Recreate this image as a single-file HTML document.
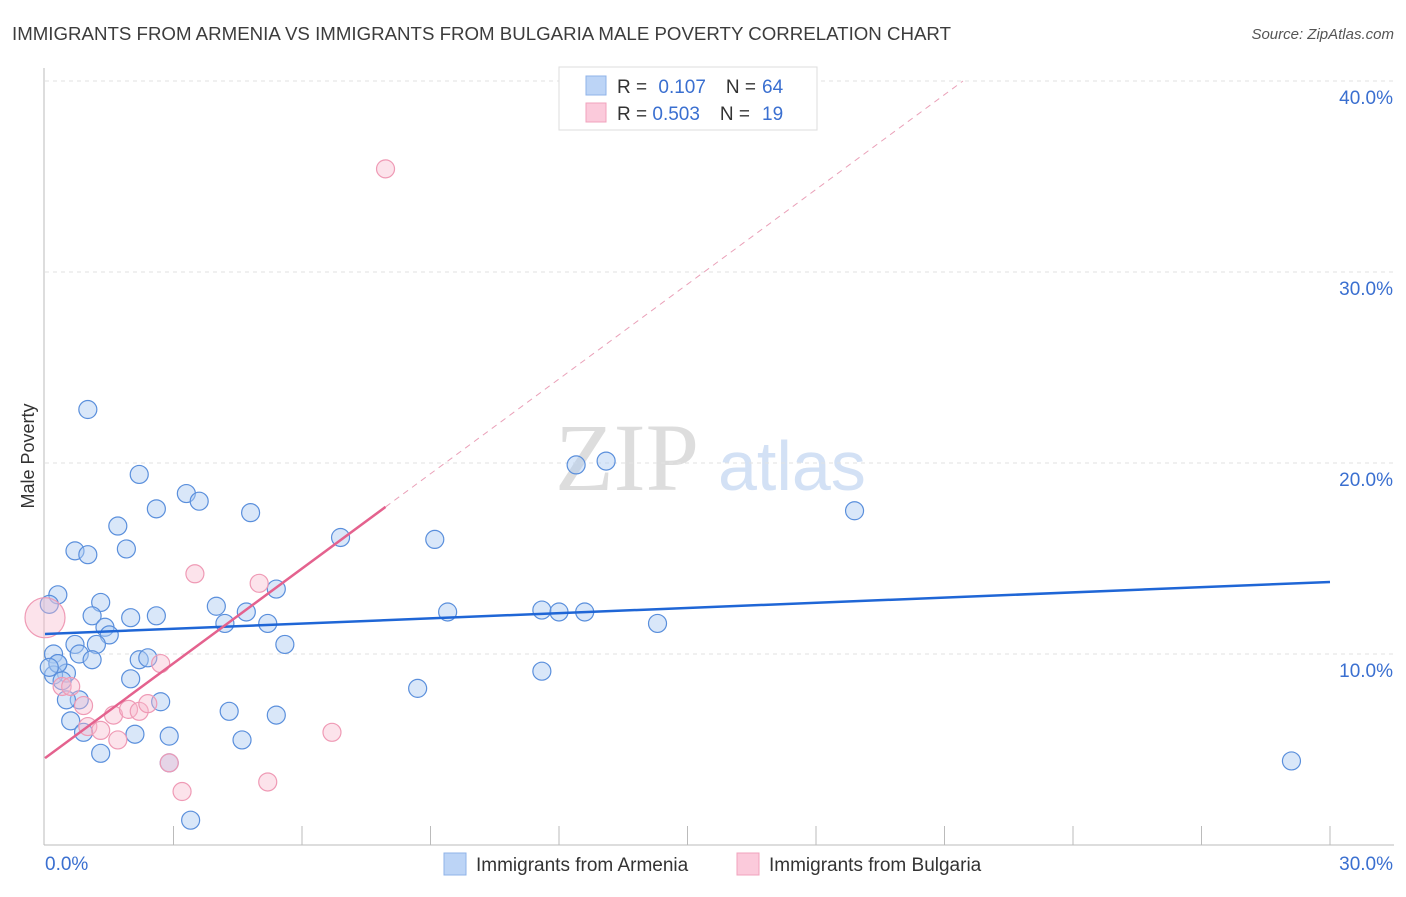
<!DOCTYPE html>
<html><head><meta charset="utf-8"><style>
body{margin:0;background:#fff;font-family:"Liberation Sans",sans-serif}
</style></head><body>
<svg id="chart" width="1406" height="892" xmlns="http://www.w3.org/2000/svg" font-family="Liberation Sans, sans-serif">
<text x="12" y="40" font-size="18" fill="#3c3c3c" textLength="939" lengthAdjust="spacingAndGlyphs">IMMIGRANTS FROM ARMENIA VS IMMIGRANTS FROM BULGARIA MALE POVERTY CORRELATION CHART</text>
<text x="1394" y="39" font-size="15" fill="#555" font-style="italic" text-anchor="end">Source: ZipAtlas.com</text>
<text transform="translate(34,456) rotate(-90)" font-size="18" fill="#333" text-anchor="middle">Male Poverty</text>
<text x="555" y="490" font-size="96" fill="#ddd" font-family="Liberation Serif, serif">ZIP</text>
<text x="718" y="490" font-size="70" fill="#d3e1f5">atlas</text>
<g id="grid"></g><g id="marks"></g>
<g>
<rect x="559" y="67" width="258" height="63" fill="#fff" stroke="#ddd"/>
<rect x="586" y="76" width="20" height="19" fill="#bcd4f6" stroke="#8fb3e8"/>
<rect x="586" y="103" width="20" height="19" fill="#fbcadb" stroke="#f0a3bd"/>
<text x="617" y="93" font-size="19" fill="#333">R = <tspan fill="#3a6fd0" dx="6">0.107</tspan><tspan dx="20" fill="#333">N =</tspan><tspan dx="6" fill="#3a6fd0">64</tspan></text>
<text x="617" y="120" font-size="19" fill="#333">R = <tspan fill="#3a6fd0">0.503</tspan><tspan dx="20" fill="#333">N =</tspan><tspan dx="12" fill="#3a6fd0">19</tspan></text>
</g>
<g>
<rect x="444" y="853" width="22" height="22" fill="#bcd4f6" stroke="#8fb3e8"/>
<text x="476" y="871" font-size="19" fill="#333">Immigrants from Armenia</text>
<rect x="737" y="853" width="22" height="22" fill="#fbcadb" stroke="#f0a3bd"/>
<text x="769" y="871" font-size="19" fill="#333">Immigrants from Bulgaria</text>
</g>
</svg>
<script>
const yTicks=[10,20,30,40];
const xTickLabels=["0.0%","30.0%"];
const armeniaX=[1.0,2.2,3.3,3.6,2.6,4.8,1.7,0.7,1.0,1.9,6.9,9.1,12.4,13.1,18.9,0.3,0.1,1.3,5.4,1.1,2.0,2.6,4.0,4.7,4.2,5.2,9.4,11.6,12.0,12.6,14.3,1.4,1.5,1.2,0.7,0.2,0.8,1.1,2.2,2.4,5.6,0.3,0.5,0.2,0.4,2.0,8.7,11.6,0.8,0.5,2.7,0.6,0.9,2.1,4.3,5.4,2.9,1.3,4.6,2.9,3.4,29.1,0.3,0.1];
const armeniaY=[22.8,19.4,18.4,18.0,17.6,17.4,16.7,15.4,15.2,15.5,16.1,16.0,19.9,20.1,17.5,13.1,12.6,12.7,13.4,12.0,11.9,12.0,12.5,12.2,11.6,11.6,12.2,12.3,12.2,12.2,11.6,11.4,11.0,10.5,10.5,10.0,10.0,9.7,9.7,9.8,10.5,9.5,9.0,8.9,8.6,8.7,8.2,9.1,7.6,7.6,7.5,6.5,5.9,5.8,7.0,6.8,5.7,4.8,5.5,4.3,1.3,4.4,9.5,9.3];
const bulgariaX=[0.0,7.95,3.5,5.0,2.7,0.4,0.6,0.9,1.0,1.3,1.6,1.95,2.2,2.4,1.7,2.9,3.2,5.2,6.7];
const bulgariaY=[11.9,35.4,14.2,13.7,9.5,8.3,8.3,7.3,6.2,6.0,6.8,7.1,7.0,7.4,5.5,4.3,2.8,3.3,5.9];
const armeniaTrend=[11.05,13.77];
const bulgariaTrend=[4.55,17.7,7.95];
const NS="http://www.w3.org/2000/svg";
const X=v=>45+v/30*1285, Y=v=>845-v*19.1;
function mk(t,a,p){const e=document.createElementNS(NS,t);for(const k in a)e.setAttribute(k,a[k]);p.appendChild(e);return e;}
const grid=document.getElementById('grid'),marks=document.getElementById('marks');
yTicks.forEach(t=>{
 const l=mk('line',{x1:45,x2:1394,y1:Y(t),y2:Y(t),stroke:'#e2e2e2','stroke-dasharray':'4,4'},grid);
 
 
 const tx=mk('text',{x:1393,y:Y(t)+23,'font-size':19,fill:'#3a6fd0','text-anchor':'end'},grid);tx.textContent=t.toFixed(1)+'%';
 
 
});
mk('line',{x1:44,x2:44,y1:68,y2:845,stroke:'#bbb'},grid);
mk('line',{x1:44,x2:1394,y1:845,y2:845,stroke:'#bbb'},grid);
for(let i=1;i<=10;i++){mk('line',{x1:X(i*3),x2:X(i*3),y1:826,y2:845,stroke:'#bbb'},grid);}
const xl0=mk('text',{x:45,y:870,'font-size':19,fill:'#3a6fd0'},grid);xl0.textContent=xTickLabels[0];


const xl1=mk('text',{x:1393,y:870,'font-size':19,fill:'#3a6fd0','text-anchor':'end'},grid);xl1.textContent=xTickLabels[1];


armeniaX.forEach((x,i)=>{const c=mk('circle',{cx:X(x),cy:Y(armeniaY[i]),r:9,fill:'rgba(170,202,242,0.45)',stroke:'#5a8fdc','stroke-width':1.2},marks);
 
 });
bulgariaX.forEach((x,i)=>{const c=mk('circle',{cx:X(x),cy:Y(bulgariaY[i]),r:i==0?20:9,fill:'rgba(248,185,205,0.4)',stroke:'#ef9ab5','stroke-width':1.2},marks);
 
 });
const bt=mk('line',{x1:X(0),y1:Y(armeniaTrend[0]),x2:X(30),y2:Y(armeniaTrend[1]),stroke:'#1f66d6','stroke-width':2.5},marks);


const sl=(bulgariaTrend[1]-bulgariaTrend[0])/bulgariaTrend[2];
const pt=mk('line',{x1:X(0),y1:Y(bulgariaTrend[0]),x2:X(bulgariaTrend[2]),y2:Y(bulgariaTrend[1]),stroke:'#e4628e','stroke-width':2.5},marks);


const xe=(40-bulgariaTrend[0])/sl;
const pd=mk('line',{x1:X(bulgariaTrend[2]),y1:Y(bulgariaTrend[1]),x2:X(xe),y2:Y(40),stroke:'#eaa0b8','stroke-width':1,'stroke-dasharray':'6,5'},marks);


</script>
</body></html>
